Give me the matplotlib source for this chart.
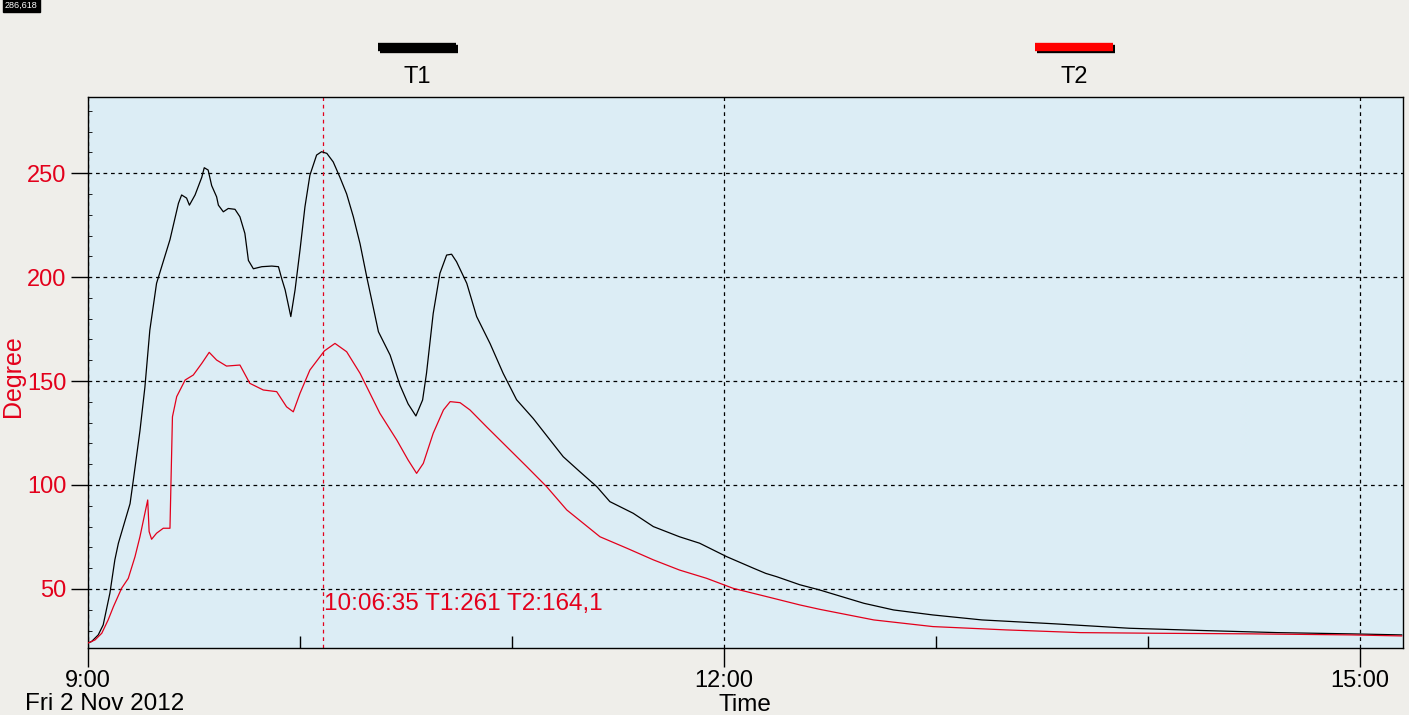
import matplotlib
matplotlib.use("Agg")
import matplotlib.pyplot as plt
from matplotlib.lines import Line2D
from matplotlib.ticker import FixedLocator, MultipleLocator

plt.rcParams['font.family'] = ['Liberation Sans', 'DejaVu Sans']

# ---- data (minutes after 9:00, degrees) ----
t1_min = [0, 1.0, 2.9, 4.3, 6.2, 7.6, 8.6, 11.9, 12.8, 14.7, 16.1, 17.5, 19.4, 23.2, 25.6,
          26.5, 27.9, 28.7, 30.3, 32.2, 32.9, 34.0, 35.0, 36.4, 36.9, 38.3, 39.7, 41.6, 43.0,
          44.4, 45.4, 46.8, 49.2, 52.0, 53.9, 54.8, 55.8, 57.4, 58.6, 60.0, 61.4, 62.8, 64.7,
          66.1, 67.6, 69.4, 71.3, 73.2, 75.1, 77.0, 78.9, 80.7, 82.2, 85.5, 88.3, 90.6, 92.8,
          94.7, 95.8, 97.7, 99.6, 101.5, 102.9, 104.3, 107.2, 110.0, 113.8, 117.5, 121.3,
          126.0, 130.8, 134.5, 139.2, 144.0, 147.7, 154.3, 160.0, 167.4, 173.1, 180.8, 188.3,
          191.8, 194.9, 201.5, 207.1, 219.6, 228.0, 239.1, 253.0, 273.9, 294.7, 315.6, 336.5,
          357.3, 371.8]
t1_val = [24.0, 24.7, 27.9, 32.7, 48, 64, 72, 91, 102, 126, 147, 174.5, 197, 218, 235.5,
          239.5, 238, 234.6, 239.5, 248, 252.6, 251.5, 244, 238.6, 234.6, 231.4, 233, 232.6, 229,
          221, 208, 204, 205, 205.3, 205, 199.4, 193.8, 181, 193.8, 213, 233.8, 249, 258.7,
          260.3, 259.5, 255.4, 248, 240, 229, 216, 200, 185.7, 173.7, 162.5, 148, 139, 133.2,
          140.9, 153.7, 182.5, 201.8, 210.6, 211, 207.4, 197, 181, 168, 153.7, 141,
          132, 121.6, 113.6, 106.4, 99.2, 92, 86.4, 80, 75.1, 72, 65.5, 60,
          57.5, 55.9, 52, 49.5, 43.1, 39.9, 37.5, 35.1, 33.2, 31.1, 30, 29,
          28.4, 27.9]

t2_min = [0, 2.0, 3.9, 5.7, 7.2, 9.5, 11.4, 13.3, 14.7, 16.1, 16.9, 17.3, 18.0, 19.4, 21.3,
          23.2, 23.5, 23.9, 25.1, 27.5, 29.8, 32.2, 34.3, 36.4, 39.2, 43.0, 45.8, 49.6, 53.4,
          56.2, 58.1, 60.0, 62.8, 66.9, 69.9, 73.2, 77.0, 79.8, 82.6, 87.4, 90.6, 93.0, 94.9,
          97.7, 100.6, 102.5, 105.3, 108.1, 112.8, 118.5, 124.2, 129.8, 135.5, 144.9, 152.5,
          160.0, 167.4, 175.1, 182.6, 192.1, 201.5, 207.1, 222.4, 239.1, 259.9, 280.8, 301.7,
          329.4, 357.3, 371.8]
t2_val = [24, 25.5, 28.7, 35.1, 41.5, 50.3, 55.1, 65.5, 75.1, 86.4, 92.8, 77.6, 73.9, 76.8, 79.2,
          79.2, 102.4, 132.8, 142.5, 150.5, 152.9, 158.5, 163.8, 160.1, 157.2, 157.7, 148.9, 145.7, 144.9,
          137.6, 135.2, 144.1, 155.3, 164.5, 168.1, 164.1, 153.7, 144.1, 134.5, 121.6, 112, 105.6, 110.4,
          124.9, 136.1, 140.1, 139.6, 136.1, 128, 118.4, 108.8, 99.2, 88, 75.1, 69.6,
          64, 59.1, 55.1, 50.3, 46.3, 42.3, 40.2, 35.1, 31.9, 30.3, 29, 28.7,
          28.4, 27.9, 27.4]

series_names = ["T1", "T2"]
y_ticks = [50, 100, 150, 200, 250]
x_ticks_h = [9, 12, 15]
x_tick_labels = ["9:00", "12:00", "15:00"]
cursor_label = "10:06:35 T1:261 T2:164,1"
cursor_min = 66 + 35 / 60
date_label = "Fri 2 Nov 2012"
top_value = "286,618"

RED = '#e3001b'

# ---- figure ----
W, H = 1409, 715
fig = plt.figure(figsize=(W / 100, H / 100), dpi=100, facecolor='#efeeea')
ax = fig.add_axes([88 / W, 1 - 648 / H, (1403 - 88) / W, (648 - 97) / H])
ax.set_facecolor('#dcedf5')

x1 = [9 + m / 60 for m in t1_min]
x2 = [9 + m / 60 for m in t2_min]
ax.plot(x1, t1_val, color='black', lw=0.9, zorder=3)
ax.plot(x2, t2_val, color=RED, lw=0.9, zorder=3)

ax.set_xlim(9, 9 + (1403 - 88) / 212)
ax.set_ylim(21.6, 286.618)

# grid
for yv in y_ticks:
    ax.axhline(yv, color='black', lw=0.9, ls=(0, (3, 3)), zorder=1)
for xv in x_ticks_h:
    ax.axvline(xv, color='black', lw=0.9, ls=(0, (3, 3)), zorder=1)

# cursor
cx = 9 + cursor_min / 60
ax.axvline(cx, color=RED, lw=0.9, ls=(0, (3, 3)), zorder=2)
ax.text(cx + 0.004, 42.8, cursor_label, color=RED, fontsize=17.5, va='center', ha='left', zorder=4)

for s in ax.spines.values():
    s.set_color('black')
    s.set_linewidth(1.0)

ax.xaxis.set_major_locator(FixedLocator(x_ticks_h))
ax.set_xticklabels(x_tick_labels)
ax.xaxis.set_minor_locator(FixedLocator([10, 11, 13, 14]))
ax.tick_params(axis='x', which='major', direction='out', length=14, width=1, labelsize=17, pad=1.5)
ax.tick_params(axis='x', which='minor', direction='in', length=9, width=1)
ax.yaxis.set_major_locator(FixedLocator(y_ticks))
ax.yaxis.set_minor_locator(MultipleLocator(10))
ax.tick_params(axis='y', which='major', direction='out', length=12, width=1, labelsize=17,
               labelcolor=RED, pad=3.5)
ax.tick_params(axis='y', which='minor', direction='in', length=3, width=0.6)

fig.text(13 / W, 1 - 376 / H, "Degree", color=RED, fontsize=18, rotation=90,
         ha='center', va='center')
fig.text(745 / W, 1 - 705 / H, "Time", color='black', fontsize=17.5, ha='center', va='center')
fig.text(105 / W, 1 - 704 / H, date_label, color='black', fontsize=17.5, ha='center', va='center')

# legend-like marks
leg = [(378, 456, 'black', series_names[0]), (1035, 1113, '#ff0000', series_names[1])]
for xa, xb, col, name in leg:
    y = 1 - 46.5 / H
    fig.add_artist(Line2D([(xa + 2) / W, (xb + 2) / W], [y - 2 / H, y - 2 / H],
                          color='black', lw=6, solid_capstyle='butt', transform=fig.transFigure))
    fig.add_artist(Line2D([xa / W, xb / W], [y, y], color=col, lw=6,
                          solid_capstyle='butt', transform=fig.transFigure))
    fig.text((xa + xb) / 2 / W, 1 - 77 / H, name, color='black', fontsize=17,
             ha='center', va='center')

fig.text(5 / W, 1 - 5 / H, top_value, color='white', fontsize=6.5, ha='left', va='center',
         bbox=dict(boxstyle='square,pad=0.25', fc='black', ec='black'))

fig.savefig('out.png', dpi=100, facecolor=fig.get_facecolor())
